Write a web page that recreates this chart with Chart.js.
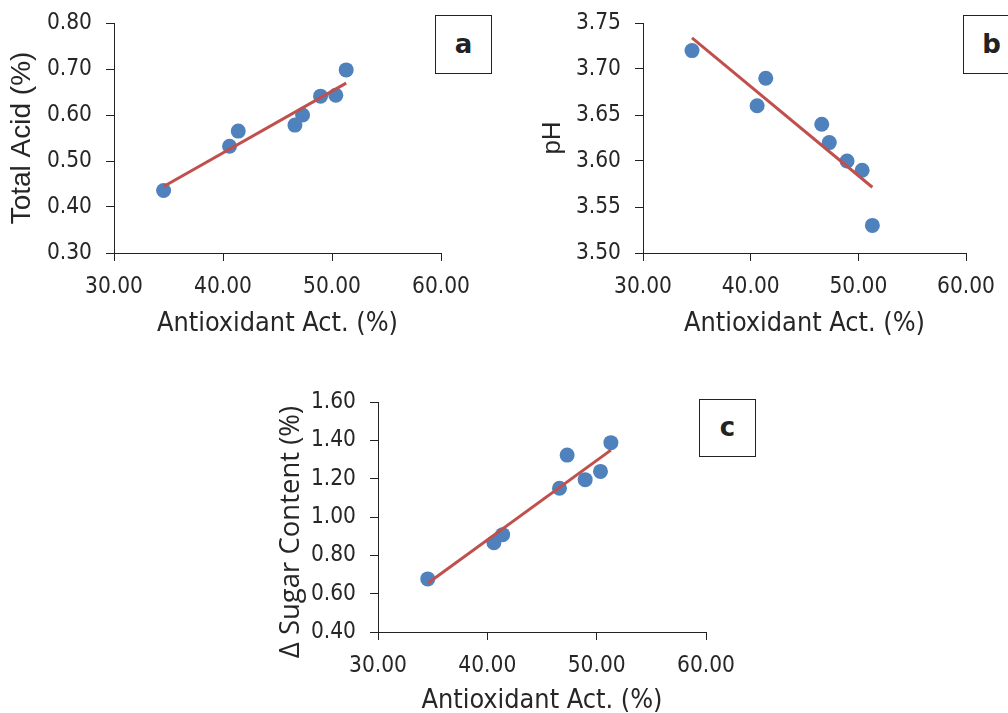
<!DOCTYPE html>
<html>
<head>
<meta charset="utf-8">
<script src="https://cdn.jsdelivr.net/npm/chart.js@4.4.1/dist/chart.umd.min.js"></script>
<style>
  body { margin: 0; background: #fff; width: 1008px; height: 713px; overflow: hidden; position: relative; font-family: 'DejaVu Sans', sans-serif; }
  canvas { position: absolute; }
  .tag { position: absolute; box-sizing: border-box; border: 1.5px solid #222; background: #fff; color: #222;
         font: bold 26px 'DejaVu Sans', sans-serif; text-align: center; }
</style>
</head>
<body>
<canvas id="chartA" width="500" height="340" style="left:0px;top:0px"></canvas>
<canvas id="chartB" width="508" height="340" style="left:500px;top:0px"></canvas>
<canvas id="chartC" width="500" height="337" style="left:260px;top:380px"></canvas>

<div class="tag" style="left:435px;top:15px;width:57px;height:59px;line-height:56px">a</div>
<div class="tag" style="left:963px;top:15px;width:57px;height:59px;line-height:56px">b</div>
<div class="tag" style="left:699px;top:399px;width:57px;height:58px;line-height:55px">c</div>

<script>
// datos
const antioxidante = [34.55, 40.6, 41.4, 46.6, 47.3, 48.95, 50.35, 51.3];
const acidoTotal = [0.436, 0.532, 0.565, 0.578, 0.600, 0.641, 0.643, 0.698];
const valoresPH = [3.72, 3.66, 3.69, 3.64, 3.62, 3.60, 3.59, 3.53];
const azucar = [0.677, 0.866, 0.908, 1.150, 1.323, 1.195, 1.238, 1.388];

const tituloX = 'Antioxidant Act. (%)';
const ejeX = { min: 30, max: 60, step: 10 };

const azul = '#4F81BD';
const rojo = '#C0504D';
const colorEje = '#222';
const colorTexto = '#262626';
const fuente = "'DejaVu Sans Condensed', 'DejaVu Sans'";
const fuenteArial = "'Liberation Sans', Arial";

// recta de regresión (mínimos cuadrados) entre el x mínimo y el máximo
function tendencia(xs, ys) {
    const n = xs.length;
    const mx = xs.reduce((a, b) => a + b, 0) / n;
    const my = ys.reduce((a, b) => a + b, 0) / n;
    let sxy = 0, sxx = 0;
    for (let i = 0; i < n; i++) {
        sxy += (xs[i] - mx) * (ys[i] - my);
        sxx += (xs[i] - mx) * (xs[i] - mx);
    }
    const m = sxy / sxx;
    const x0 = Math.min(...xs), x1 = Math.max(...xs);
    return [{ x: x0, y: my + m * (x0 - mx) }, { x: x1, y: my + m * (x1 - mx) }];
}

// título del eje y desplazado hacia abajo (gráfico c)
const tituloDesplazado = {
    id: 'tituloDesplazado',
    afterDraw(chart, args, opts) {
        if (!opts.text) return;
        const { ctx } = chart;
        const y = chart.scales.y;
        ctx.save();
        ctx.translate(opts.x, (y.top + y.bottom) / 2 + opts.shift);
        ctx.rotate(-Math.PI / 2);
        ctx.font = opts.font;
        ctx.fillStyle = colorTexto;
        ctx.textAlign = 'center';
        ctx.textBaseline = 'middle';
        ctx.fillText(opts.text, 0, 0);
        ctx.restore();
    }
};

function crearGrafico(id, ys, cfg) {
    const puntos = antioxidante.map((x, i) => ({ x: x, y: ys[i] }));
    return new Chart(document.getElementById(id), {
        type: 'scatter',
        data: {
            datasets: [
                {
                    type: 'line',
                    data: tendencia(antioxidante, ys),
                    borderColor: rojo,
                    borderWidth: 3,
                    pointRadius: 0,
                    showLine: true,
                    fill: false,
                    order: 0
                },
                {
                    data: puntos,
                    backgroundColor: azul,
                    borderWidth: 0,
                    pointRadius: 7.5,
                    order: 1
                }
            ]
        },
        options: {
            responsive: false,
            animation: false,
            layout: { padding: cfg.padding, autoPadding: false },
            plugins: {
                legend: { display: false },
                tooltip: { enabled: false },
                tituloDesplazado: cfg.tituloAparte || {}
            },
            scales: {
                x: {
                    type: 'linear',
                    min: ejeX.min,
                    max: ejeX.max,
                    afterFit: s => { s.height = cfg.altoX; },
                    ticks: {
                        stepSize: ejeX.step,
                        padding: 13,
                        color: colorTexto,
                        font: { family: fuente, size: 22.5 },
                        callback: v => v.toFixed(2)
                    },
                    grid: { drawOnChartArea: false, drawTicks: true, tickLength: 8, color: colorEje, lineWidth: 1 },
                    border: { display: true, color: colorEje, width: 1 },
                    title: {
                        display: true,
                        text: tituloX,
                        color: colorTexto,
                        font: { family: fuente, size: 26.8, lineHeight: 1.2 },
                        padding: { top: 0, bottom: cfg.padTituloX }
                    }
                },
                y: {
                    type: 'linear',
                    min: cfg.min,
                    max: cfg.max,
                    afterFit: s => { s.width = cfg.anchoY; },
                    ticks: {
                        stepSize: cfg.step,
                        padding: 14,
                        color: colorTexto,
                        // lineHeight bajo para que el margen de las etiquetas no empuje el área del gráfico
                        font: { family: fuente, size: 22.5, lineHeight: 0.7 },
                        callback: v => v.toFixed(2)
                    },
                    grid: { drawOnChartArea: false, drawTicks: true, tickLength: 8, color: colorEje, lineWidth: 1 },
                    border: { display: true, color: colorEje, width: 1 },
                    title: {
                        display: !!cfg.tituloY,
                        text: cfg.tituloY || '',
                        color: colorTexto,
                        font: { family: fuenteArial, size: cfg.tamTituloY || 27, lineHeight: 1.2 },
                        padding: { top: cfg.padTituloY || 0, bottom: 0 }
                    }
                }
            }
        },
        plugins: [tituloDesplazado]
    });
}

crearGrafico('chartA', acidoTotal, {
    min: 0.3, max: 0.8, step: 0.1,
    tituloY: 'Total Acid (%)', tamTituloY: 28, padTituloY: 5,
    anchoY: 114, altoX: 87, padTituloX: 0,
    padding: { top: 23, right: 59, left: 0, bottom: 0 }
});

crearGrafico('chartB', valoresPH, {
    min: 3.5, max: 3.75, step: 0.05,
    tituloY: 'pH', tamTituloY: 26, padTituloY: 37,
    anchoY: 143, altoX: 87, padTituloX: 0,
    padding: { top: 23, right: 38, left: 0, bottom: 0 }
});

crearGrafico('chartC', azucar, {
    min: 0.4, max: 1.6, step: 0.2,
    anchoY: 118, altoX: 85, padTituloX: 0,
    tituloAparte: { text: 'Δ Sugar Content (%)', font: "27.5px 'Open Sans'", x: 31, shift: 15 },
    padding: { top: 22, right: 54, left: 0, bottom: 0 }
});
</script>
</body>
</html>
